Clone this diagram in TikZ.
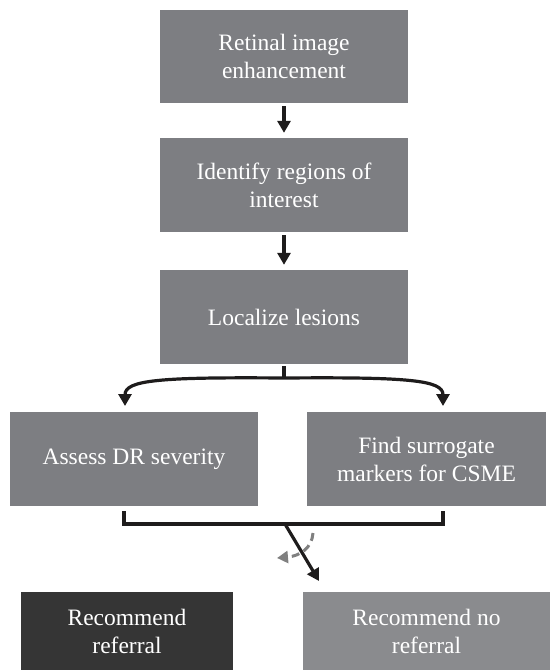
\documentclass[tikz,border=0pt]{standalone}
\usepackage{fontspec}
\setmainfont{Liberation Serif}
\usetikzlibrary{arrows.meta}
\definecolor{boxgray}{RGB}{125,126,130}
\definecolor{boxdark}{RGB}{53,53,53}
\definecolor{boxlight}{RGB}{138,139,142}
\definecolor{linedark}{RGB}{30,28,28}
\definecolor{dashgray}{RGB}{128,128,128}
\tikzset{
  stepbox/.style={fill=boxgray, draw=none, text=white, align=center, inner sep=0pt,
    font=\fontsize{23.5}{28}\selectfont},
  flowarrow/.style={draw=linedark, line width=3.2pt, -{Triangle[width=13pt,length=12pt]}},
  bracketline/.style={draw=linedark, line width=3.4pt},
}
\begin{document}
\begin{tikzpicture}[x=1pt,y=-1pt]
\useasboundingbox (0,0) rectangle (550,670);
\node[stepbox, minimum width=248pt, minimum height=93pt] (n1) at (284,56.5) {Retinal image\\enhancement};
\node[stepbox, minimum width=248pt, minimum height=94pt] (n2) at (284,185) {Identify regions of\\interest};
\node[stepbox, minimum width=248pt, minimum height=94pt] (n3) at (284,317) {Localize lesions};
\node[stepbox, minimum width=248pt, minimum height=94pt] (n4) at (134,459) {Assess DR severity};
\node[stepbox, minimum width=239pt, minimum height=94pt] (n5) at (426.5,459) {Find surrogate\\markers for CSME};
\node[stepbox, fill=boxdark, minimum width=212pt, minimum height=79pt] (n6) at (127,631.5) {Recommend\\referral};
\node[stepbox, fill=boxlight, minimum width=247pt, minimum height=79pt] (n7) at (426.5,631.5) {Recommend no\\referral};

\draw[flowarrow] ([yshift=-3pt]n1.south) -- ([yshift=5pt]n2.north);
\draw[flowarrow] ([yshift=-3pt]n2.south) -- ([yshift=5pt]n3.north);

\coordinate (split) at (284,378);
\coordinate (lt) at (125,406);
\coordinate (rt) at (443,406);
\draw[bracketline] ([yshift=-2pt]n3.south) -- (split);
\draw[flowarrow] (split) .. controls (160,377) and (125,380) .. (lt);
\draw[flowarrow] (split) .. controls (408,377) and (443,380) .. (rt);

\coordinate (bl) at (124,511);
\coordinate (br) at (443,511);
\coordinate (bl2) at (124,524);
\coordinate (br2) at (443,524);
\draw[bracketline] (bl) -- (bl2) -- (br2) -- (br);
\coordinate (dstart) at (285,524);
\coordinate (dend) at (319,581);
\draw[flowarrow] (dstart) -- (dend);
\coordinate (gs) at (313,533);
\coordinate (ge) at (277,558);
\draw[dashgray, line width=3pt, dash pattern=on 8pt off 5pt, -{Triangle[width=12pt,length=11pt]}]
  (gs) .. controls (312,548) and (300,556) .. (ge);
\end{tikzpicture}
\end{document}
